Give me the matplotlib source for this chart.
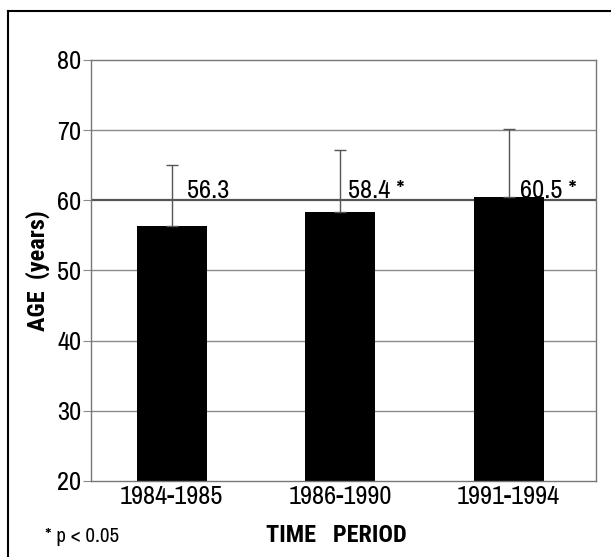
import matplotlib
matplotlib.use("Agg")
import matplotlib.pyplot as plt
from matplotlib.lines import Line2D

# Daten
periods = ["1984-1985", "1986-1990", "1991-1994"]
mean_age = [56.3, 58.4, 60.5]
sd_upper = [8.7, 8.8, 9.7]
value_labels = ["56.3", "58.4 *", "60.5 *"]
y_ticks = [20, 30, 40, 50, 60, 70, 80]

plt.rcParams['font.family'] = ['Archivo Narrow', 'DejaVu Sans']
BOLD = ['Roboto Condensed', 'Barlow Semi Condensed', 'DejaVu Sans']
FS = 19

fig = plt.figure(figsize=(6.11, 5.57), dpi=100)
ax = fig.add_axes([91/611, 76/557, 505/611, 421/557])

x = list(range(len(periods)))

# gitterlinjer, 60 lite mörkare
for t in y_ticks[1:-1]:
    if t == 60:
        ax.axhline(t, color="#555555", lw=1.6, zorder=1)
    else:
        ax.axhline(t, color="#8a8a8a", lw=1.0, zorder=1)

ax.bar(x, mean_age, width=0.415, color="black", zorder=2)
ax.errorbar(x, mean_age, yerr=[[0]*len(x), sd_upper], fmt="none",
            ecolor="#555555", elinewidth=1.0, capsize=4, capthick=1.0, zorder=3)

offsets = [0.09, 0.048, 0.068]
for i, lab in enumerate(value_labels):
    ax.text(x[i] + offsets[i], 60.4, lab, fontsize=FS, va="baseline", ha="left", zorder=4)

ax.set_xlim(-0.478, 2.519)
ax.set_ylim(20, 80)
ax.set_yticks(y_ticks)
ax.set_xticks(x)
ax.set_xticklabels(periods)
ax.tick_params(axis="y", labelsize=FS, length=6, color="#888888", pad=1)
ax.tick_params(axis="x", labelsize=FS, length=0, pad=3)

for s in ax.spines.values():
    s.set_color("#777777")
    s.set_linewidth(1.0)

ax.set_ylabel("AGE  (years)", fontsize=17.5, fontweight="bold", family=BOLD)
ax.yaxis.set_label_coords(-0.082, 0.5)
fig.text(336/611, 1 - 542/557, "TIME   PERIOD", fontsize=17.5, fontweight="bold",
         family=BOLD, ha="center", va="baseline")
fig.text(45/611, 1 - 542/557, "* p < 0.05", fontsize=15, ha="left", va="baseline")

# ram uppe och till vänster
fig.add_artist(Line2D([8/611, 1], [1 - 11/557, 1 - 11/557], color="black", lw=1.5,
                      transform=fig.transFigure))
fig.add_artist(Line2D([8/611, 8/611], [0, 1 - 11/557], color="black", lw=1.5,
                      transform=fig.transFigure))

fig.savefig("out.png", dpi=100)
